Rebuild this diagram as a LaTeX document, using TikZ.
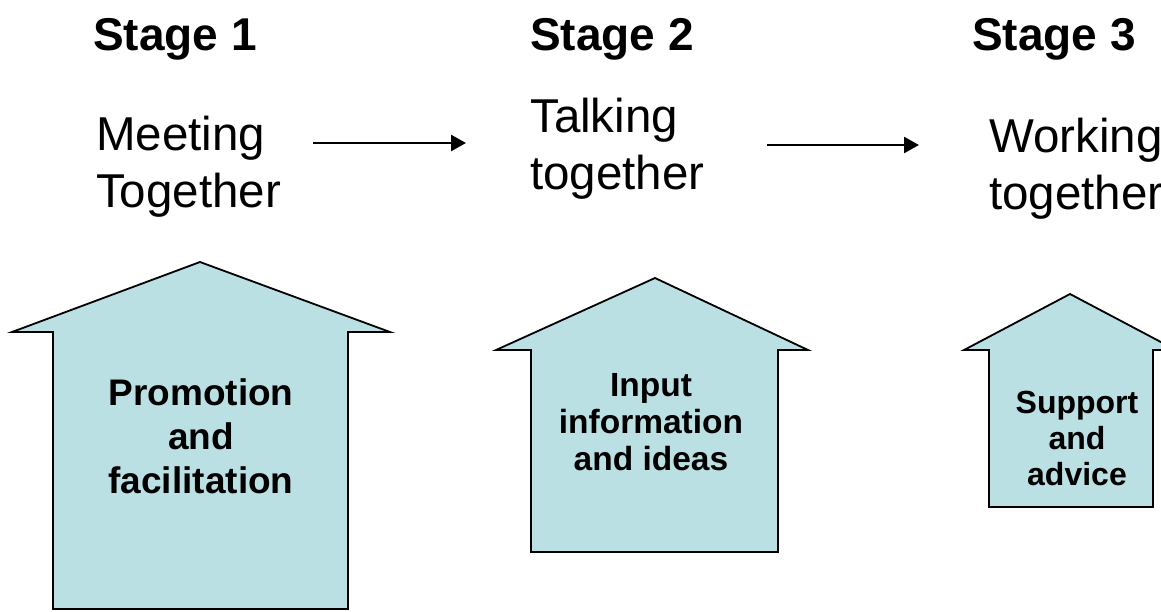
\documentclass[tikz,border=0pt]{standalone}
\usepackage{fontspec}
\setmainfont{Liberation Sans}
\usetikzlibrary{arrows.meta}
\definecolor{houseblue}{RGB}{187,224,227}
\tikzset{
  px/.style={x=1pt,y=-1pt},
  house/.style={draw=black,line width=1.8pt,fill=houseblue,line join=miter},
  stagelbl/.style={anchor=base west,inner sep=0pt,font=\fontsize{46}{55}\selectfont\bfseries},
  steplbl/.style={anchor=base west,inner sep=0pt,font=\fontsize{47.5}{57}\selectfont},
  bigin/.style={anchor=base,inner sep=0pt,font=\fontsize{37}{44}\selectfont\bfseries},
  midin/.style={anchor=base,inner sep=0pt,font=\fontsize{33.5}{37}\selectfont\bfseries},
  smallin/.style={anchor=base,inner sep=0pt,font=\fontsize{32}{36}\selectfont\bfseries},
  flow/.style={line width=2.6pt,-{Triangle[length=15pt,width=16pt]}}
}
\begin{document}
\begin{tikzpicture}[px]
\useasboundingbox (0,0) rectangle (1161,611);
\clip (0,0) rectangle (1161,611);
\fill[white] (0,0) rectangle (1161,611);
% houses
\draw[house] (53,609) -- (53,332) -- (12,332) -- (200,262) -- (390,332) -- (348,332) -- (348,609) -- cycle;
\draw[house] (531,552) -- (531,350) -- (496,350) -- (655,278) -- (808,350) -- (778,350) -- (778,552) -- cycle;
\draw[house] (989,507) -- (989,350) -- (964,350) -- (1070,294) -- (1176,350) -- (1153,350) -- (1153,507) -- cycle;
% stage titles
\node[stagelbl] (s1) at (93,50) {Stage 1};
\node[stagelbl] (s2) at (530,50) {Stage 2};
\node[stagelbl] (s3) at (972,50) {Stage 3};
% step labels
\node[steplbl] (m1) at (96,150) {Meeting};
\node[steplbl] (m2) at (96,207) {Together};
\node[steplbl] (t1) at (530,132) {Talking};
\node[steplbl] (t2) at (530,189) {together};
\node[steplbl] (w1) at (989,152) {Working};
\node[steplbl] (w2) at (989,209) {together};
% house texts
\node[bigin] (p1) at (201,405) {Promotion};
\node[bigin] (p2) at (201,449) {and};
\node[bigin] (p3) at (201,493) {facilitation};
\node[midin] (i1) at (651,396) {Input};
\node[midin] (i2) at (651,433) {information};
\node[midin] (i3) at (651,470) {and ideas};
\node[smallin] (a1) at (1077,413) {Support};
\node[smallin] (a2) at (1077,449) {and};
\node[smallin] (a3) at (1077,485) {advice};
% flow arrows
\coordinate (f1s) at (313,143);
\coordinate (f1e) at (466,143);
\coordinate (f2s) at (767,145);
\coordinate (f2e) at (919,145);
\draw[flow] (f1s) -- (f1e);
\draw[flow] (f2s) -- (f2e);
\end{tikzpicture}
\end{document}
